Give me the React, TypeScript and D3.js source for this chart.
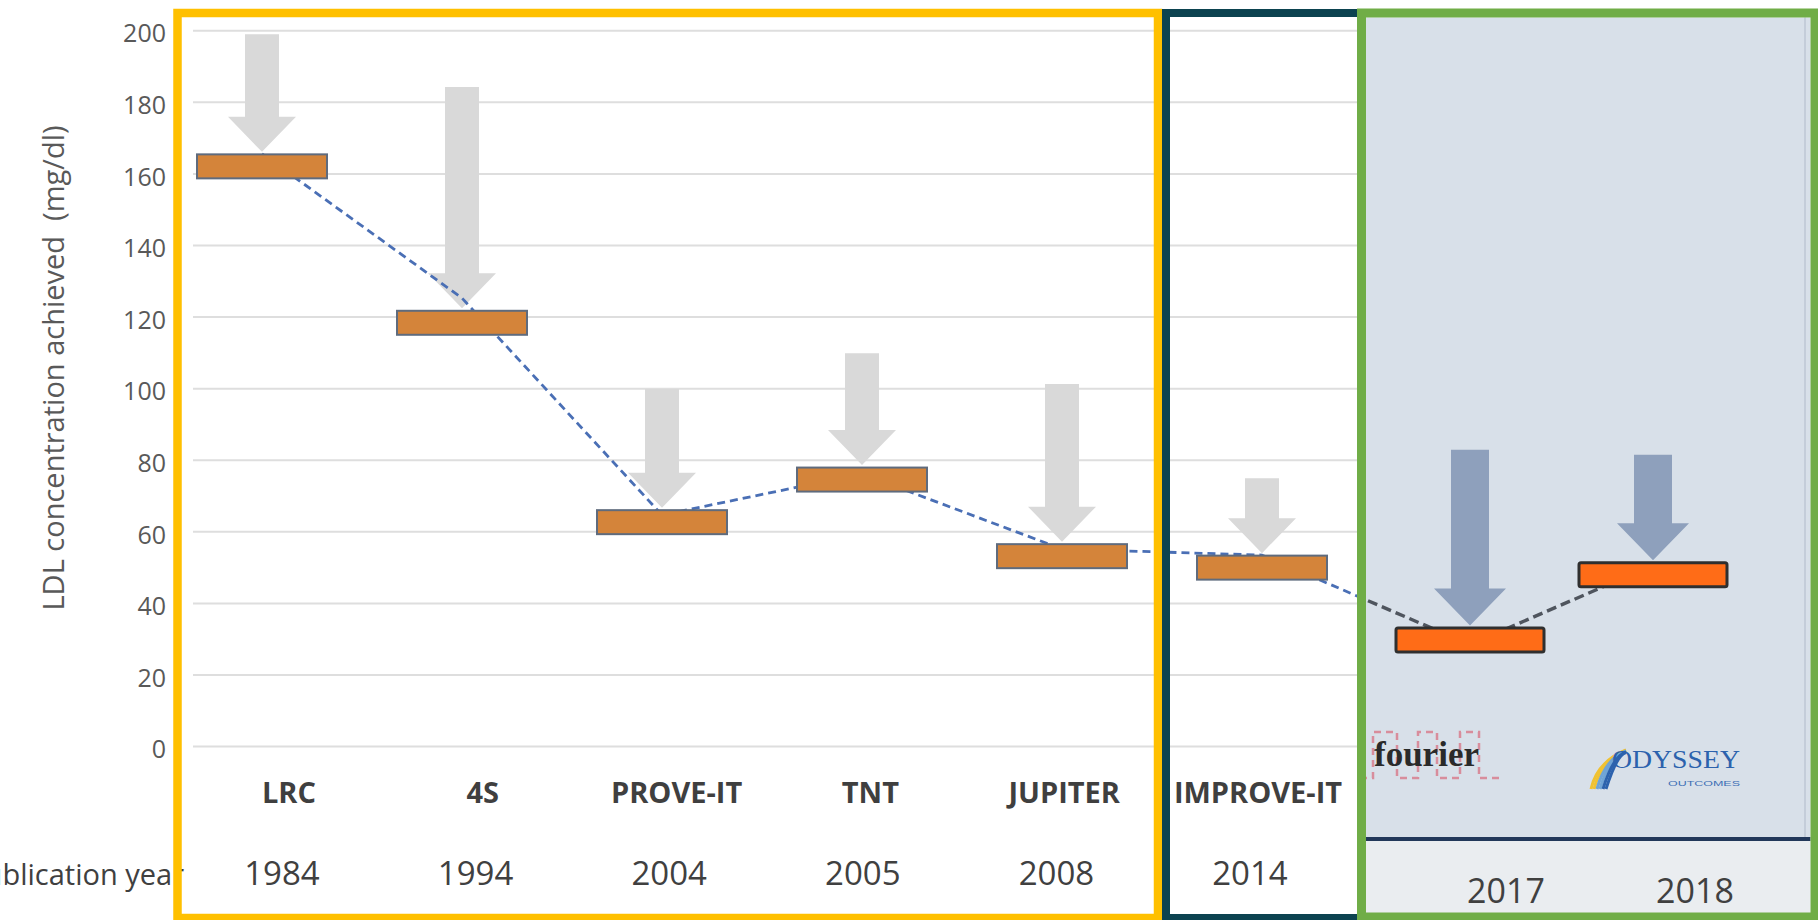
import React from 'react';
import * as d3 from 'd3';

// ---------- data ----------
const trials = ['LRC', '4S', 'PROVE-IT', 'TNT', 'JUPITER', 'IMPROVE-IT'];
const trialYears = ['1984', '1994', '2004', '2005', '2008', '2014'];
const ldlAchieved = [162.1, 118.4, 62.7, 74.6, 53.2, 50.0];
const ldlArrowStart = [199.0, 184.3, 99.9, 109.9, 101.3, 75.0];

const insetTrials = ['FOURIER', 'ODYSSEY'];
const insetYears = ['2017', '2018'];
const insetAchieved = [29.8, 48.0];
const insetArrowStart = [82.9, 81.5];

// dashed trend line (one value per trial, in order)
const trendValues = [165.6, 125.3, 64.7, 76.2, 55.2, 53.5, 28.5, 50.7];

const yTicks = [0, 20, 40, 60, 80, 100, 120, 140, 160, 180, 200];

const yTitle = 'LDL concentration achieved  (mg/dl)';
const xTitle = 'Publication year';

// ---------- layout ----------
const W = 1818;
const H = 920;
const FONT = '"Open Sans", "Noto Sans", sans-serif';

const y = d3.scaleLinear().domain([0, 200]).range([746.6, 30.7]);
const xMain = d3.scalePoint<string>().domain(trials).range([262, 1262]);
const xLabel = d3.scalePoint<string>().domain(trials).range([289, 1258]);
const xYear = d3.scalePoint<string>().domain(trials).range([282, 1250]);
const xInset = d3.scalePoint<string>().domain(insetTrials).range([1470, 1653]);
const xInsetLabel = d3.scalePoint<string>().domain(insetTrials).range([1506, 1695]);

function arrowPath(cx: number, yTop: number, yTip: number, shaftW: number, headW: number, headLen: number) {
  const p = d3.path();
  const yHead = yTip - headLen;
  p.moveTo(cx - shaftW / 2, yTop);
  p.lineTo(cx + shaftW / 2, yTop);
  p.lineTo(cx + shaftW / 2, yHead);
  p.lineTo(cx + headW / 2, yHead);
  p.lineTo(cx, yTip);
  p.lineTo(cx - headW / 2, yHead);
  p.lineTo(cx - shaftW / 2, yHead);
  p.closePath();
  return p.toString();
}

export default function App() {
  const barH = 24;
  const mainBarW = 130;
  const insetBarW = 148;

  const trendPts: [number, number][] = trendValues.map((v, i) => {
    const x = i < trials.length ? (xMain(trials[i]) as number) : (xInset(insetTrials[i - trials.length]) as number);
    return [x, y(v)];
  });
  const lineGen = d3.line<[number, number]>().x((d) => d[0]).y((d) => d[1]);
  const trendD = lineGen(trendPts) || '';

  const inset = { x0: 1366, x1: 1810.5, y0: 17.5, y1: 838 };

  return (
    <svg
      width={W}
      height={H}
      viewBox={`0 0 ${W} ${H}`}
      style={{ position: 'absolute', left: 0, top: 0, display: 'block' }}
    >
      <defs>
        <clipPath id="insetClip">
          <rect x={inset.x0} y={inset.y0} width={inset.x1 - inset.x0} height={inset.y1 - inset.y0} />
        </clipPath>
      </defs>
      <rect x={0} y={0} width={W} height={H} fill="#ffffff" />

      {/* gridlines */}
      {yTicks.map((t) => (
        <line key={'g' + t} x1={193} x2={1360} y1={y(t)} y2={y(t)} stroke="#dedede" strokeWidth={2} />
      ))}

      {/* gray arrows */}
      {trials.map((t, i) => {
        const cx = xMain(t) as number;
        const yTip = y(ldlAchieved[i]) - barH / 2 - 2.5;
        return (
          <path key={'a' + t} d={arrowPath(cx, y(ldlArrowStart[i]), yTip, 34, 68, 35)} fill="#d9d9d9" />
        );
      })}

      {/* trend line */}
      <path d={trendD} fill="none" stroke="#4a6fb5" strokeWidth={2.8} strokeDasharray="8 5" />

      {/* bars */}
      {trials.map((t, i) => {
        const cx = xMain(t) as number;
        return (
          <rect
            key={'b' + t}
            x={cx - mainBarW / 2}
            y={y(ldlAchieved[i]) - barH / 2}
            width={mainBarW}
            height={barH}
            fill="#d4843a"
            stroke="#5f6b7d"
            strokeWidth={2}
          />
        );
      })}

      {/* y tick labels */}
      {yTicks.map((t) => (
        <text
          key={'t' + t}
          x={166}
          y={y(t) + 3}
          dy="0.35em"
          textAnchor="end"
          fontFamily={FONT}
          fontSize={25}
          fill="#595959"
        >
          {t}
        </text>
      ))}

      {/* y title */}
      <text
        transform="translate(52,368) rotate(-90)"
        textAnchor="middle"
        dominantBaseline="central"
        fontFamily={FONT}
        fontSize={29}
        fill="#595959"
        style={{ whiteSpace: 'pre' }}
      >
        {yTitle}
      </text>

      {/* publication year title (partly off the left edge, as in the source) */}
      <text x={184} y={885} textAnchor="end" fontFamily={FONT} fontSize={29} fill="#404040">
        {xTitle}
      </text>

      {/* category labels + years */}
      {trials.map((t, i) => (
        <g key={'l' + t}>
          <text
            x={xLabel(t) as number}
            y={803}
            textAnchor="middle"
            fontFamily={FONT}
            fontSize={29}
            fontWeight={700}
            fill="#3f3f3f"
          >
            {t}
          </text>
          <text x={xYear(t) as number} y={885} textAnchor="middle" fontFamily={FONT} fontSize={33} fill="#404040">
            {trialYears[i]}
          </text>
        </g>
      ))}

      {/* ---------- inset panel ---------- */}
      <rect x={inset.x0} y={inset.y0} width={inset.x1 - inset.x0} height={inset.y1 - inset.y0} fill="#d8e0e9" />
      <rect x={inset.x0} y={841} width={inset.x1 - inset.x0} height={74} fill="#eaedf0" />
      <line x1={inset.x0} x2={inset.x1} y1={839} y2={839} stroke="#22385a" strokeWidth={4} />
      <line x1={1805} x2={1805} y1={inset.y0} y2={837} stroke="#c4cdd9" strokeWidth={2} />

      <path
        d={trendD}
        fill="none"
        stroke="#4f555e"
        strokeWidth={3.4}
        strokeDasharray="10 5"
        clipPath="url(#insetClip)"
      />

      {insetTrials.map((t, i) => {
        const cx = xInset(t) as number;
        const yTip = y(insetAchieved[i]) - barH / 2 - 2.5;
        return (
          <path key={'ia' + t} d={arrowPath(cx, y(insetArrowStart[i]), yTip, 38, 72, 37)} fill="#8ea0bc" />
        );
      })}
      {insetTrials.map((t, i) => {
        const cx = xInset(t) as number;
        return (
          <rect
            key={'ib' + t}
            x={cx - insetBarW / 2}
            y={y(insetAchieved[i]) - barH / 2}
            width={insetBarW}
            height={barH}
            rx={2}
            fill="#ff6c17"
            stroke="#2f2f2f"
            strokeWidth={3}
          />
        );
      })}

      {/* fourier logo */}
      <path
        d="M1360,778 L1373,778 L1373,732 L1397,732 L1397,778 L1418,778 L1418,732 L1437,732 L1437,778 L1460,778 L1460,732 L1479,732 L1479,778 L1500,778"
        fill="none"
        stroke="#d9485c"
        strokeWidth={2.5}
        strokeDasharray="7 5"
        opacity={0.55}
      />
      <text x={1374} y={766} fontFamily='"Liberation Serif", "DejaVu Serif", serif' fontSize={35} fontWeight={600} fill="#2a2a2a">
        fourier
      </text>

      {/* odyssey logo */}
      {[0, 1, 2, 3, 4, 5].map((k) => (
        <path
          key={'sw' + k}
          d={`M${1591 + k * 3},${789} Q${1597 + k * 4},${762 - k * 1.5} ${1626},${750 + k * 0.5}`}
          fill="none"
          stroke={k < 2 ? '#f0c232' : k < 4 ? '#6fa4d6' : '#2c62ad'}
          strokeWidth={3}
        />
      ))}
      <text
        x={1612}
        y={768}
        fontFamily='"Liberation Serif", serif'
        fontSize={26}
        textLength={128}
        lengthAdjust="spacingAndGlyphs"
        fill="#2c62ad"
      >
        ODYSSEY
      </text>
      <text
        x={1668}
        y={786}
        fontFamily='"Liberation Sans", sans-serif'
        fontSize={8}
        textLength={72}
        lengthAdjust="spacingAndGlyphs"
        fill="#3d6fb5"
      >
        OUTCOMES
      </text>

      {insetTrials.map((t, i) => (
        <text
          key={'iy' + t}
          x={xInsetLabel(t) as number}
          y={903}
          textAnchor="middle"
          fontFamily={FONT}
          fontSize={34}
          fill="#404040"
        >
          {insetYears[i]}
        </text>
      ))}

      {/* ---------- frames ---------- */}
      <rect x={177.5} y={13} width={980.5} height={905} fill="none" stroke="#ffc000" strokeWidth={8.5} />
      <rect x={1166} y={13} width={195.5} height={905} fill="none" stroke="#0c4350" strokeWidth={8} />
      <rect x={1361.5} y={13} width={453.5} height={904} fill="none" stroke="#70ad47" strokeWidth={9} />
    </svg>
  );
}
